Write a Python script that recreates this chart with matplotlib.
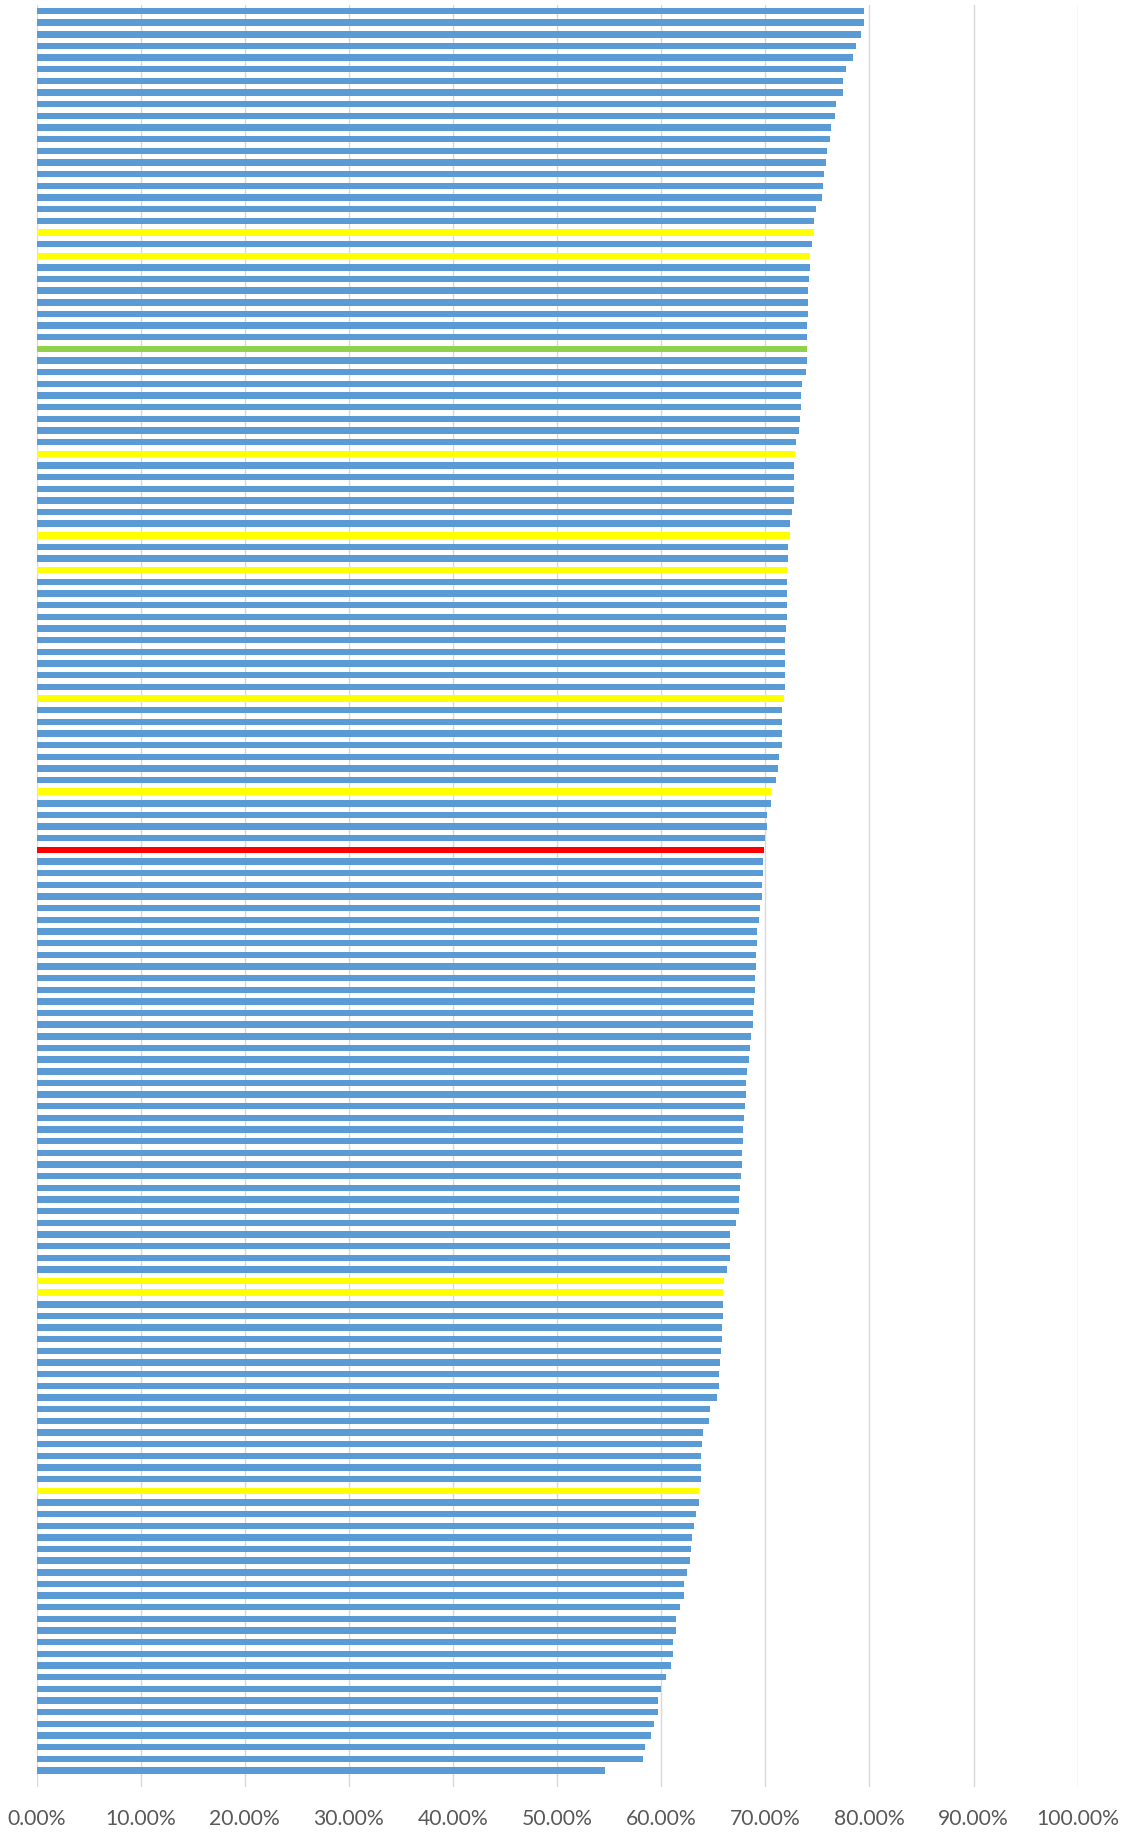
import matplotlib
matplotlib.use("Agg")
import matplotlib.pyplot as plt
from matplotlib.ticker import PercentFormatter, MultipleLocator

# bar values in percent, listed top to bottom
values = [
    79.49, 79.49, 79.17, 78.68, 78.40, 77.75, 77.46, 77.43, 76.76, 76.72,
    76.31, 76.24, 75.92, 75.86, 75.67, 75.54, 75.44, 74.83, 74.67, 74.64,
    74.48, 74.25, 74.25, 74.22, 74.13, 74.06, 74.06, 74.00, 74.03, 73.96,
    73.96, 73.90, 73.48, 73.45, 73.39, 73.35, 73.19, 72.94, 72.81, 72.78,
    72.71, 72.71, 72.71, 72.52, 72.36, 72.33, 72.20, 72.20, 72.13, 72.13,
    72.13, 72.13, 72.07, 72.01, 71.91, 71.91, 71.91, 71.88, 71.85, 71.75,
    71.65, 71.62, 71.62, 71.59, 71.27, 71.20, 70.98, 70.59, 70.53, 70.21,
    70.21, 69.98, 69.92, 69.82, 69.76, 69.70, 69.66, 69.53, 69.44, 69.25,
    69.25, 69.12, 69.12, 69.05, 69.05, 68.89, 68.86, 68.83, 68.64, 68.57,
    68.48, 68.22, 68.19, 68.19, 68.09, 67.93, 67.87, 67.83, 67.80, 67.74,
    67.64, 67.61, 67.51, 67.48, 67.19, 66.61, 66.61, 66.61, 66.32, 66.07,
    65.97, 65.97, 65.91, 65.84, 65.84, 65.71, 65.65, 65.59, 65.52, 65.33,
    64.65, 64.56, 64.04, 63.92, 63.85, 63.85, 63.85, 63.66, 63.63, 63.37,
    63.11, 62.99, 62.86, 62.73, 62.44, 62.22, 62.15, 61.83, 61.41, 61.38,
    61.09, 61.09, 60.92, 60.47, 59.98, 59.70, 59.65, 59.32, 58.99, 58.43,
    58.27, 54.63,
]

# highlighted rows (1-based, counted from the top)
yellow_rows = [20, 22, 39, 46, 49, 60, 68, 110, 111, 128]
green_rows = [30]
red_rows = [73]

BLUE = "#5B9BD5"
colors = []
for i in range(1, len(values) + 1):
    if i in yellow_rows:
        colors.append("#FFFF00")
    elif i in green_rows:
        colors.append("#92D050")
    elif i in red_rows:
        colors.append("#FF0000")
    else:
        colors.append(BLUE)

plt.rcParams['font.family'] = ['Lato', 'DejaVu Sans']

fig = plt.figure(figsize=(11.29, 18.32), dpi=100)
ax = fig.add_axes([36.6 / 1129, 1 - 1786.7 / 1832, 1041 / 1129, (1786.7 - 5.2) / 1832])

n = len(values)
ax.barh(range(n), [v / 100 for v in values], height=0.55, color=colors, zorder=2)

ax.set_xlim(0, 1)
ax.set_ylim(n - 0.5 + 0.9, -0.5)
ax.xaxis.set_major_locator(MultipleLocator(0.1))
ax.xaxis.set_major_formatter(PercentFormatter(xmax=1, decimals=2))
ax.grid(axis='x', color='#D9D9D9', linewidth=1.0, zorder=0)
ax.set_axisbelow(True)
ax.set_yticks([])
ax.tick_params(axis='x', length=0, pad=16, labelsize=15.2, labelcolor='#595959')
for s in ax.spines.values():
    s.set_visible(False)

fig.savefig("out.png", dpi=100)
